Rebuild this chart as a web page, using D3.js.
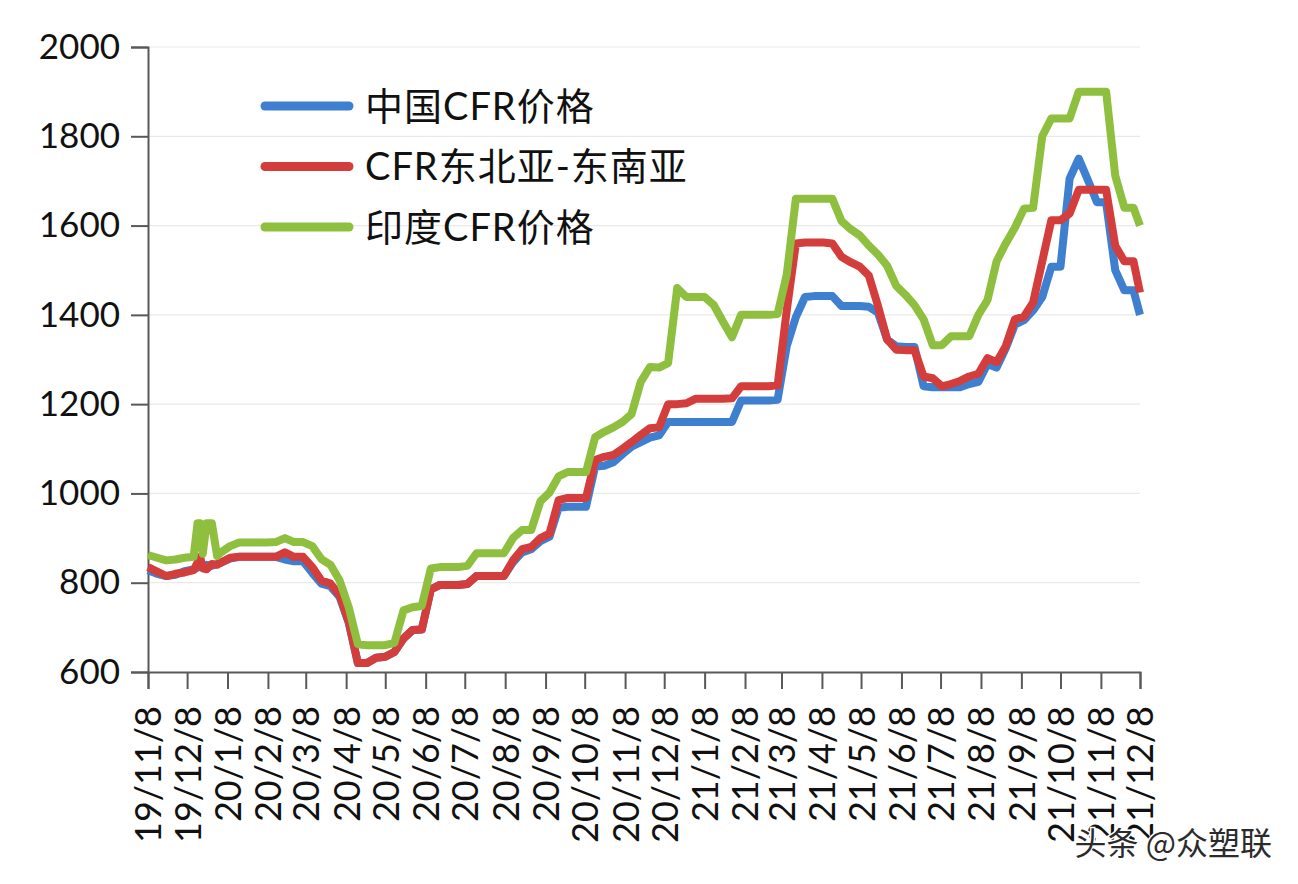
<!DOCTYPE html>
<html>
<head>
<meta charset="utf-8">
<script src="https://cdn.jsdelivr.net/npm/d3@7"></script>
<style>
  html, body { margin: 0; padding: 0; background: #fff; }
  svg { display: block; }
</style>
</head>
<body>
<svg id="chart" width="1298" height="884"></svg>
<script>
// ---- data ----
const dates = [
  "2019-11-08","2019-11-15","2019-11-22","2019-11-29","2019-12-06","2019-12-13","2019-12-16","2019-12-18",
  "2019-12-20","2019-12-23","2019-12-27","2019-12-31",
  "2020-01-03","2020-01-10","2020-01-17","2020-01-24","2020-01-31","2020-02-07","2020-02-14","2020-02-21",
  "2020-02-28","2020-03-06","2020-03-13","2020-03-20","2020-03-27","2020-04-03","2020-04-10","2020-04-17",
  "2020-04-24","2020-05-01","2020-05-08","2020-05-15","2020-05-22","2020-05-29","2020-06-05","2020-06-12",
  "2020-06-19","2020-06-26","2020-07-03","2020-07-10","2020-07-17","2020-07-24","2020-07-31","2020-08-07",
  "2020-08-14","2020-08-21","2020-08-28","2020-09-04","2020-09-11","2020-09-18","2020-09-25","2020-10-02",
  "2020-10-09","2020-10-16","2020-10-23","2020-10-30","2020-11-06","2020-11-13","2020-11-20","2020-11-27",
  "2020-12-04","2020-12-11","2020-12-18","2020-12-25",
  "2021-01-01","2021-01-08","2021-01-15","2021-01-22","2021-01-29","2021-02-05","2021-02-12","2021-02-19",
  "2021-02-26","2021-03-05","2021-03-12","2021-03-19","2021-03-26","2021-04-02","2021-04-09","2021-04-16",
  "2021-04-23","2021-04-30","2021-05-07","2021-05-14","2021-05-21","2021-05-28","2021-06-04","2021-06-11",
  "2021-06-18","2021-06-25","2021-07-02","2021-07-09","2021-07-16","2021-07-23","2021-07-30","2021-08-06",
  "2021-08-13","2021-08-20","2021-08-27","2021-09-03","2021-09-10","2021-09-17","2021-09-24","2021-10-01",
  "2021-10-08","2021-10-15","2021-10-22","2021-10-29","2021-11-05","2021-11-12","2021-11-19","2021-11-26",
  "2021-12-03","2021-12-08"
];

const chinaCFR = [
  828,820,815,818,826,830,834,838,
  836,840,838,842,
  845,854,858,858,858,858,858,852,
  848,848,822,798,792,768,710,620,
  620,632,634,645,675,694,695,785,
  795,795,795,797,815,815,815,815,
  846,868,875,893,903,968,970,970,
  970,1060,1062,1070,1088,1105,1115,1125,
  1130,1160,1160,1160,
  1160,1160,1160,1160,1160,1208,1208,1208,
  1208,1210,1330,1395,1440,1442,1442,1442,
  1420,1420,1420,1418,1405,1345,1330,1328,
  1328,1240,1238,1238,1238,1238,1245,1250,
  1290,1282,1325,1378,1388,1410,1440,1508,
  1508,1705,1750,1702,1652,1652,1500,1455,
  1455,1400
];

const cfrNEASEA = [
  835,825,815,820,823,828,845,858,
  832,830,842,840,
  845,856,858,858,858,858,858,868,
  858,858,835,805,798,772,712,620,
  620,632,634,645,675,694,695,785,
  795,795,795,797,815,815,815,815,
  850,875,880,900,910,985,990,990,
  990,1075,1082,1086,1100,1115,1131,1146,
  1148,1200,1200,1202,
  1212,1212,1212,1212,1213,1240,1240,1240,
  1240,1242,1410,1560,1562,1562,1562,1560,
  1530,1518,1508,1488,1420,1345,1322,1321,
  1321,1262,1258,1240,1245,1252,1262,1268,
  1303,1294,1330,1390,1396,1428,1520,1612,
  1612,1627,1680,1680,1680,1680,1555,1520,
  1520,1450
];

const indiaCFR = [
  862,856,850,852,856,858,933,933,
  865,933,933,860,
  868,882,890,890,890,890,891,900,
  891,891,882,853,840,805,745,662,
  660,660,660,665,738,745,748,832,
  835,835,835,838,866,866,866,866,
  900,918,918,982,1002,1038,1048,1048,
  1048,1126,1138,1148,1160,1178,1250,1283,
  1282,1292,1460,1440,
  1440,1440,1422,1385,1350,1400,1400,1400,
  1400,1402,1490,1660,1660,1660,1660,1660,
  1610,1592,1578,1555,1535,1510,1465,1445,
  1422,1390,1332,1332,1352,1352,1352,1400,
  1433,1520,1560,1595,1638,1640,1800,1840,
  1840,1840,1900,1900,1900,1900,1712,1640,
  1640,1600
];

const seriesNames = ["中国CFR价格", "CFR东北亚-东南亚", "印度CFR价格"];
const seriesColors = ["#3F7FCF", "#D33D3B", "#8EBF3E"];

const xTickLabels = [
  "19/11/8","19/12/8","20/1/8","20/2/8","20/3/8","20/4/8","20/5/8","20/6/8","20/7/8",
  "20/8/8","20/9/8","20/10/8","20/11/8","20/12/8","21/1/8","21/2/8","21/3/8","21/4/8",
  "21/5/8","21/6/8","21/7/8","21/8/8","21/9/8","21/10/8","21/11/8","21/12/8"
];
const yTicks = [600, 800, 1000, 1200, 1400, 1600, 1800, 2000];
const watermark = "头条 @众塑联";

(function () {
  // ---- layout ----
  const svg = d3.select("#chart");
  const pLeft = 148, pRight = 1140, pTop = 47, pBottom = 672;
  const parse = d3.timeParse("%Y-%m-%d");
  const parseTick = s => { const p = s.split("/"); return new Date(2000 + +p[0], +p[1] - 1, +p[2]); };

  const x = d3.scaleTime()
    .domain([parseTick(xTickLabels[0]), parseTick(xTickLabels[xTickLabels.length - 1])])
    .range([pLeft, pRight]);
  const y = d3.scaleLinear().domain([600, 2000]).range([pBottom, pTop]);

  const latin = "Lato, 'Liberation Sans', sans-serif";

  // grid
  svg.append("g").selectAll("line").data(yTicks.filter(d => d !== 600)).join("line")
    .attr("x1", pLeft).attr("x2", pRight)
    .attr("y1", d => y(d)).attr("y2", d => y(d))
    .attr("stroke", "#e9e9e9").attr("stroke-width", 1.2);

  // y axis
  const yAxis = svg.append("g").attr("transform", `translate(${pLeft},0)`)
    .call(d3.axisLeft(y).tickValues(yTicks).tickSize(17).tickPadding(11).tickFormat(d3.format("d")));
  yAxis.select(".domain").attr("stroke", "#595959").attr("stroke-width", 2);
  yAxis.selectAll(".tick line").attr("stroke", "#595959").attr("stroke-width", 2);
  yAxis.selectAll("text").attr("font-family", latin).attr("font-size", 35).attr("fill", "#111");

  // x axis
  const tickDates = xTickLabels.map(parseTick);
  const xAxis = svg.append("g").attr("transform", `translate(0,${pBottom})`)
    .call(d3.axisBottom(x).tickValues(tickDates).tickSize(17).tickFormat((d, i) => xTickLabels[i]));
  xAxis.select(".domain").attr("stroke", "#595959").attr("stroke-width", 2);
  xAxis.selectAll(".tick line").attr("stroke", "#595959").attr("stroke-width", 2);
  xAxis.selectAll("text")
    .attr("font-family", latin).attr("font-size", 36).attr("fill", "#111")
    .attr("text-anchor", "end")
    .attr("transform", "rotate(-90)")
    .attr("x", -34).attr("y", 0).attr("dy", "0.36em");

  // lines
  const xDates = dates.map(parse);
  const allSeries = [chinaCFR, cfrNEASEA, indiaCFR];
  const line = d3.line().x((d, i) => x(xDates[i])).y(d => y(d));
  allSeries.forEach((vals, k) => {
    svg.append("path").datum(vals)
      .attr("d", line)
      .attr("fill", "none")
      .attr("stroke", seriesColors[k])
      .attr("stroke-width", 8)
      .attr("stroke-linejoin", "round")
      .attr("stroke-linecap", "butt");
  });

  // legend
  const legend = svg.append("g");
  seriesNames.forEach((name, k) => {
    const ly = 106 + k * 60.5;
    legend.append("line")
      .attr("x1", 265).attr("x2", 349).attr("y1", ly).attr("y2", ly)
      .attr("stroke", seriesColors[k]).attr("stroke-width", 9).attr("stroke-linecap", "round");
    legend.append("text")
      .attr("x", 365).attr("y", ly).attr("dy", "0.36em")
      .attr("font-family", "Lato, 'Noto Sans CJK SC', sans-serif")
      .attr("font-size", 38).attr("letter-spacing", 1).attr("fill", "#111")
      .text(name);
  });

  // watermark
  svg.append("text")
    .attr("x", 1272).attr("y", 855).attr("text-anchor", "end")
    .attr("font-family", "'Noto Sans CJK SC', sans-serif").attr("font-size", 32)
    .attr("fill", "#2b2b2b").attr("stroke", "#fff").attr("stroke-width", 3)
    .attr("paint-order", "stroke")
    .text(watermark);
})();
</script>
</body>
</html>
